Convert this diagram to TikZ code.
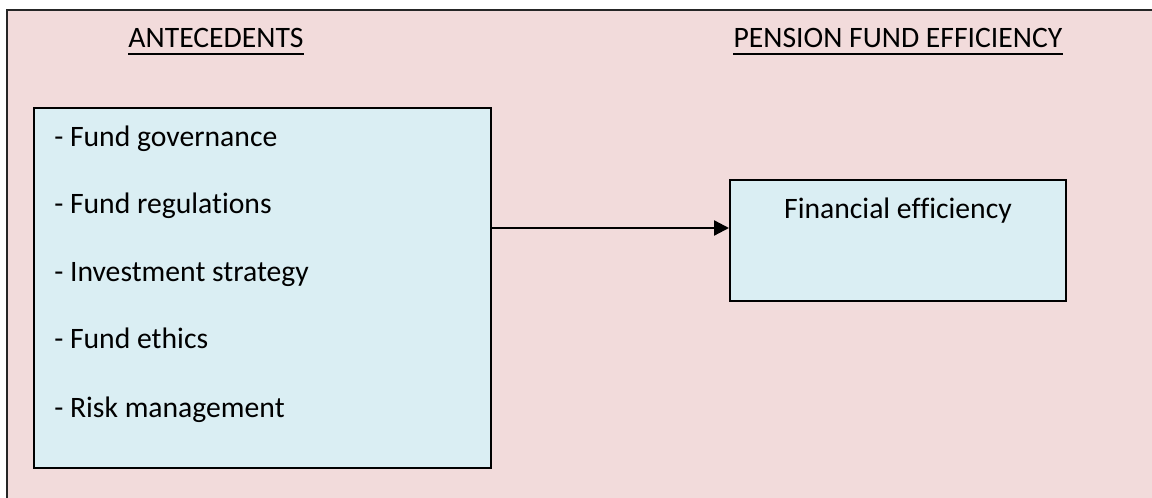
\documentclass[tikz,border=0pt]{standalone}
\usepackage{fontspec}
\setmainfont{Carlito}[Ligatures=NoCommon]
\usetikzlibrary{arrows.meta}
\definecolor{pinkbg}{HTML}{F2DBDB}
\definecolor{bluebox}{HTML}{DAEEF3}
\begin{document}
\begin{tikzpicture}[x=0.75pt,y=-0.75pt,
  every node/.style={font=\fontsize{22.25}{26}\selectfont, inner sep=0pt},
  boxstyle/.style={draw=black, line width=1.5pt, fill=bluebox, rectangle},
  itemtext/.style={anchor=base west},
  titletext/.style={anchor=base},
  uline/.style={line width=1.5pt}]
\useasboundingbox (0,0) rectangle (1152,498);
\fill[white] (0,0) rectangle (1152,498);
\draw[fill=pinkbg, draw=black!85, line width=1.2pt] (7,10) rectangle (1170,520);
% boxes
\node[boxstyle, minimum width=457*0.75pt, minimum height=360*0.75pt, anchor=north west] (ante) at (33,107) {};
\node[boxstyle, minimum width=336*0.75pt, minimum height=121*0.75pt, anchor=north west] (fin) at (729,179) {};
% titles
\node[titletext] (t1) at (216,48) {ANTECEDENTS};
\node[titletext] (t2) at (898,48) {PENSION FUND EFFICIENCY};
\draw[uline] ([yshift=-4.5pt]t1.base west) -- ([yshift=-4.5pt]t1.base east);
\draw[uline] ([yshift=-4.5pt]t2.base west) -- ([yshift=-4.5pt]t2.base east);
% items
\node[itemtext] (i1) at (54,147) {- Fund governance};
\node[itemtext] (i2) at (54,214) {- Fund regulations};
\node[itemtext] (i3) at (54,282) {- Investment strategy};
\node[itemtext] (i4) at (54,349) {- Fund ethics};
\node[itemtext] (i5) at (54,417) {- Risk management};
\node[titletext] (f1) at (898,219) {Financial efficiency};
% arrow
\coordinate (a1) at (490,228);
\coordinate (a2) at (729,228);
\draw[line width=1.7pt, -{Triangle[length=11.25pt,width=11.25pt]}] (ante.east |- a1) -- (fin.west |- a2);
\end{tikzpicture}
\end{document}
